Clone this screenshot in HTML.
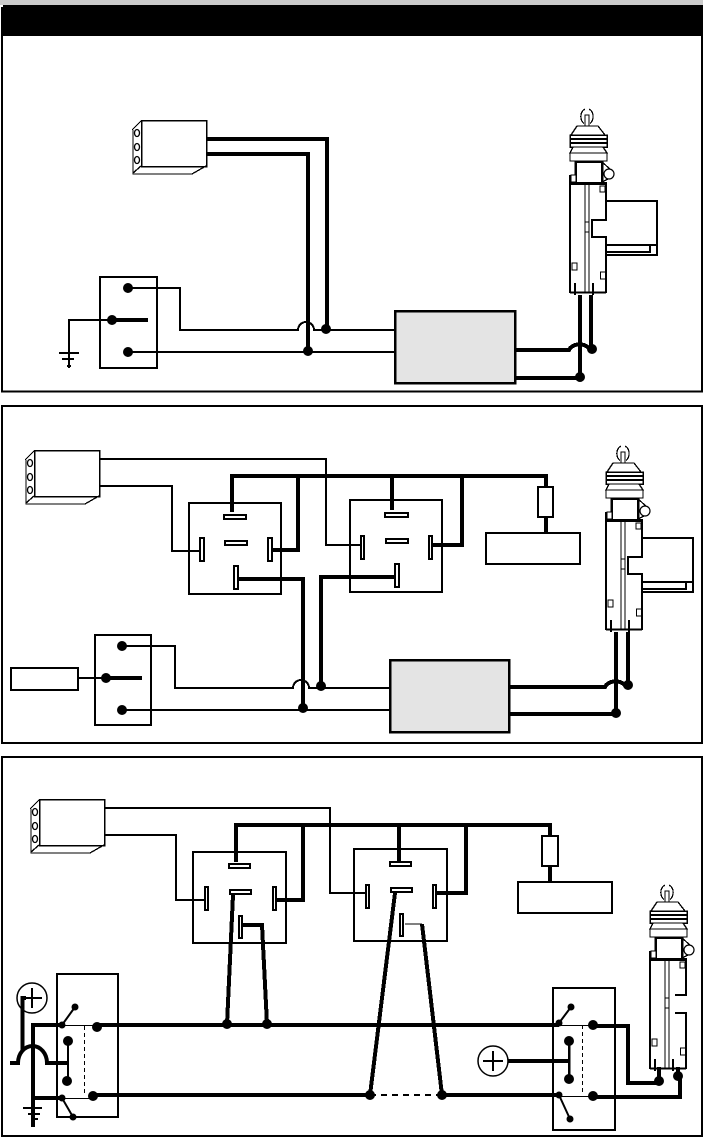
<!DOCTYPE html>
<html lang="en"><head><meta charset="utf-8"><title>Wiring diagrams</title>
<style>html,body{margin:0;padding:0;background:#fff}svg{display:block}circle,ellipse{shape-rendering:auto}</style></head>
<body>
<svg xmlns="http://www.w3.org/2000/svg" width="703" height="1138" viewBox="0 0 703 1138" shape-rendering="crispEdges">
<defs>
<g id="lock" fill="none" stroke="#000">
  <path d="M581 118A7 8 0 0 0 584 123.500M590 123.500A7 8 0 0 0 593 118A7 8 0 0 0 589 109M585 109A7 8 0 0 0 581 118" stroke-width="1.200"/>
  <rect x="585" y="115" width="4" height="11" fill="#fff" stroke-width="1.300"/>
  <path d="M577 126H598L605 135H571Z" fill="#fff" stroke-width="1.300"/>
  <rect x="570" y="135" width="37" height="12" fill="#fff" stroke-width="1.500"/>
  <path d="M570 139H607M570 143H607" stroke-width="2"/>
  <path d="M573 147H603L607 153H570Z" fill="#fff" stroke-width="1.300"/>
  <rect x="570" y="153" width="37" height="8" fill="#fff" stroke-width="1.300"/>
  <rect x="575.500" y="161.500" width="26.500" height="21.500" fill="#fff" stroke-width="2.500"/>
  <path d="M602 162L610 169M602 182L610 178" stroke-width="1.200"/>
  <circle cx="609" cy="174" r="5" fill="#fff" stroke-width="1.200"/>
  <path d="M570 175V293M570 292.500H606" stroke-width="2"/>
  <path d="M570 183.500H607" stroke-width="3"/>
  <path d="M585 183V293M589 183V293" stroke-width="1.200"/>
  <rect x="585" y="222" width="4" height="10" fill="#fff" stroke-width="1.200"/>
  <rect x="571" y="175" width="5" height="7" fill="#fff" stroke-width="1.300"/>
  <rect x="600" y="186" width="5" height="6" fill="#fff" stroke-width="1.300"/>
  <rect x="572" y="263" width="5" height="7" fill="#fff" stroke-width="1.300"/>
  <rect x="600.500" y="272" width="5" height="7" fill="#fff" stroke-width="1.300"/>
  <path d="M575 283V295M593 283V295" stroke-width="2"/>
</g>
<g id="lockbox" fill="none" stroke="#000">
  <path d="M606 183V220H592V237H606V293" stroke-width="2"/>
  <path d="M607 201H657V255H607" stroke-width="2"/>
  <path d="M607 245H657M607 252H650V245" stroke-width="2"/>
</g>
<g id="unit" fill="none" stroke="#000" stroke-width="1.300">
  <rect x="141.500" y="120.500" width="65" height="46" stroke-width="1.500"/>
  <path d="M141 121L132 130M133 130V174H192L206 166M141 166L133 173"/>
  <ellipse cx="137" cy="133" rx="2.500" ry="3.500"/>
  <ellipse cx="137" cy="147" rx="2.500" ry="3.500"/>
  <ellipse cx="137" cy="160" rx="2.500" ry="3.500"/>
</g>
</defs>

<rect x="0" y="0" width="703" height="5" fill="#cccccc"/>
<rect x="3" y="5" width="700" height="31" fill="#000"/>
<path d="M2 7V391.500H702V36" fill="none" stroke="#000" stroke-width="2"/>
<rect x="2" y="406" width="700" height="337" fill="none" stroke="#000" stroke-width="2"/>
<rect x="2" y="757" width="700" height="379" fill="none" stroke="#000" stroke-width="2"/>

<!-- Panel 1 -->
<use href="#unit"/>
<use href="#lock"/><use href="#lockbox"/>
<g fill="none" stroke="#000">
  <path d="M206 139H327V329M206 154H308V351" stroke-width="4"/>
  <path d="M128 288H180V330H298A8 8 0 0 1 314 330H395M128 352H395" stroke-width="2"/>
  <rect x="100" y="277" width="57" height="91" stroke-width="2"/>
  <path d="M112 320H148" stroke-width="4"/>
  <path d="M112 320H69V368M59 353H79M62 359H74M67 366H71" stroke-width="2"/>
  <rect x="395" y="311" width="120" height="72" fill="#e4e4e4" stroke-width="2.500"/>
  <path d="M515 350H569A11 8 0 0 1 590 350M515 378H580M580 295V377M591 295V349" stroke-width="4"/>
</g>
<g fill="#000">
  <circle cx="128" cy="288" r="5"/><circle cx="112" cy="320" r="5"/><circle cx="128" cy="352" r="5"/>
  <circle cx="308" cy="351" r="5"/><circle cx="326" cy="329" r="5"/>
  <circle cx="592" cy="349" r="5"/><circle cx="580" cy="377" r="5"/>
</g>

<!-- Panel 2 -->
<use href="#unit" x="-107" y="330"/>
<use href="#lock" x="36" y="337"/><use href="#lockbox" x="36" y="337"/>
<g fill="none" stroke="#000">
  <path d="M99 459H326V545H361M99 486H172V551H199" stroke-width="2"/>
  <rect x="189" y="503" width="92" height="91" stroke-width="2"/>
  <rect x="350" y="500" width="92" height="92" stroke-width="2"/>
  <path d="M232 512V476H546V487M298 476V550H272M392 476V510M462 476V545H432M239 579H303V708M400 577H321V686" stroke-width="4"/>
  <g fill="#fff" stroke-width="2">
    <rect x="224" y="515" width="22" height="4"/><rect x="225" y="541" width="22" height="4"/>
    <rect x="200" y="538" width="4" height="23"/><rect x="268" y="538" width="4" height="23"/>
    <rect x="234" y="566" width="4" height="23"/>
    <rect x="385" y="513" width="23" height="4"/><rect x="386" y="539" width="22" height="4"/>
    <rect x="361" y="536" width="3" height="23"/><rect x="429" y="536" width="3" height="23"/>
    <rect x="395" y="564" width="4" height="23"/>
  </g>
  <rect x="538" y="487" width="15" height="30" stroke-width="2"/>
  <path d="M546 517V533" stroke-width="4"/>
  <rect x="486" y="533" width="94" height="31" stroke-width="2"/>
  <rect x="11" y="668" width="67" height="22" stroke-width="2"/>
  <rect x="95" y="635" width="56" height="90" stroke-width="2"/>
  <path d="M78 678H106" stroke-width="2"/>
  <path d="M106 678H142" stroke-width="4"/>
  <path d="M122 646H175V688H293A8 8 0 0 1 309 688H390M122 710H390" stroke-width="2"/>
  <rect x="390" y="660" width="119" height="72" fill="#e4e4e4" stroke-width="2.500"/>
  <path d="M509 687H605A11 8 0 0 1 626 687M509 714H616M616 632V713M628 632V685" stroke-width="4"/>
</g>
<g fill="#000">
  <circle cx="122" cy="646" r="5"/><circle cx="106" cy="678" r="5"/><circle cx="122" cy="710" r="5"/>
  <circle cx="303" cy="708" r="5"/><circle cx="321" cy="686" r="5"/>
  <circle cx="628" cy="685" r="5"/><circle cx="616" cy="713" r="5"/>
</g>

<!-- Panel 3 -->
<use href="#unit" x="-102" y="679"/>
<use href="#lock" x="80" y="776"/>
<g fill="none" stroke="#000">
  <path d="M686 959V995H675M675 1013H686V1069" stroke-width="2"/>
  <path d="M104 808H330V893H366M104 835H176V900H204" stroke-width="2"/>
  <rect x="193" y="852" width="93" height="91" stroke-width="2"/>
  <rect x="354" y="849" width="93" height="92" stroke-width="2"/>
  <path d="M236 862V825H550V836M303 825V900H276M399 825V861M466 825V893H436" stroke-width="4"/>
  <path d="M233 895L227 1024M243 925H262L267 1024M395 893L370 1095M422 924L442 1095" stroke-width="4"/>
  <path d="M405 924H422" stroke-width="1"/>
  <g fill="#fff" stroke-width="2">
    <rect x="229" y="864" width="21" height="4"/><rect x="230" y="890" width="21" height="4"/>
    <rect x="205" y="887" width="3" height="23"/><rect x="273" y="887" width="3" height="23"/>
    <rect x="239" y="916" width="3" height="22"/>
    <rect x="390" y="862" width="21" height="4"/><rect x="391" y="888" width="21" height="4"/>
    <rect x="366" y="885" width="3" height="23"/><rect x="433" y="885" width="3" height="23"/>
    <rect x="400" y="914" width="3" height="22"/>
  </g>
  <rect x="542" y="836" width="16" height="30" stroke-width="2"/>
  <path d="M550 866V882" stroke-width="4"/>
  <rect x="518" y="882" width="94" height="31" stroke-width="2"/>
  <path d="M227 1024H267M370 1095H442" stroke-width="2" stroke-dasharray="6 5"/>

  <!-- left switch -->
  <rect x="57" y="974" width="61" height="143" stroke-width="2"/>
  <circle cx="32" cy="998" r="15" stroke-width="1.500"/>
  <path d="M32 988V1008M22 998H42" stroke-width="2"/>
  <path d="M26 998H22.500V1050" stroke-width="4"/>
  <path d="M10 1063H18A14.500 17 0 0 1 47 1063H68" stroke-width="4" shape-rendering="auto"/>
  <path d="M33 1127V1025H62M33 1098H62" stroke-width="4"/>
  <path d="M23 1108H42M28 1114H40M32 1119H38" stroke-width="2"/>
  <path d="M62 1025L75 1007M62 1098L73 1117M68 1041V1081" stroke-width="2" shape-rendering="auto"/>
  <path d="M62 1025.500H97M62 1098.500H93" stroke-width="1"/>
  <path d="M84.500 1026V1095" stroke-width="1" stroke-dasharray="4 3"/>

  <!-- long rails -->
  <path d="M97 1025H559M93 1095H370M442 1095H559" stroke-width="4"/>

  <!-- right switch -->
  <rect x="553" y="988" width="62" height="142" stroke-width="2"/>
  <path d="M559 1023L571 1007M559 1095L570 1119" stroke-width="2" shape-rendering="auto"/>
  <path d="M559 1025.500H593M559 1096.500H593" stroke-width="1"/>
  <path d="M569 1041V1079" stroke-width="2.500"/>
  <path d="M582.500 1025V1095" stroke-width="1" stroke-dasharray="4 3"/>
  <circle cx="493" cy="1061" r="15" stroke-width="1.500"/>
  <path d="M493 1051V1071M483 1061H503" stroke-width="2"/>
  <path d="M508 1061H569" stroke-width="4"/>
  <path d="M593 1026H628V1083H659V1067M593 1097H680V1076M678 1067V1076" stroke-width="4"/>
</g>
<g fill="#000">
  <circle cx="227" cy="1024" r="5"/><circle cx="267" cy="1024" r="5"/>
  <circle cx="370" cy="1095" r="5"/><circle cx="442" cy="1095" r="5"/>
  <circle cx="62" cy="1025" r="3.500"/><circle cx="75" cy="1007" r="3.500"/>
  <circle cx="97" cy="1027" r="5"/><circle cx="68" cy="1041" r="5"/><circle cx="67" cy="1081" r="5"/>
  <circle cx="93" cy="1096" r="5"/><circle cx="62" cy="1098" r="3.500"/><circle cx="73" cy="1117" r="3.500"/>
  <circle cx="559" cy="1023" r="3.500"/><circle cx="571" cy="1007" r="3.500"/>
  <circle cx="593" cy="1025" r="5"/><circle cx="569" cy="1041" r="5"/><circle cx="569" cy="1079" r="5"/>
  <circle cx="559" cy="1095" r="3.500"/><circle cx="570" cy="1119" r="3.500"/><circle cx="593" cy="1096" r="5"/>
  <circle cx="659" cy="1081" r="5"/><circle cx="678" cy="1076" r="5"/>
</g>
</svg>
</body></html>
